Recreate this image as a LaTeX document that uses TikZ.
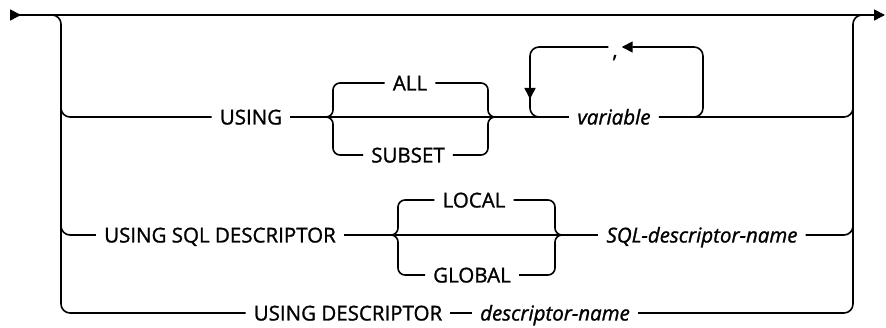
\documentclass[tikz,border=0pt]{standalone}
\usepackage{fontspec}
\newfontfamily\railfont{Open Sans}[FakeBold=1.2]
\usetikzlibrary{arrows.meta}
\tikzset{
  rail/.style={line width=1.6pt,rounded corners=9pt},
  brace/.style={line width=1.6pt,rounded corners=7pt},
  kw/.style={inner xsep=8pt,inner ysep=2pt,text height=15pt,text depth=0pt,
    font=\railfont\fontsize{20.5}{22}\selectfont},
  var/.style={kw,font=\railfont\fontsize{20.5}{22}\selectfont\itshape},
  rtip/.tip={Triangle[length=11pt,width=11pt]}
}
\begin{document}
\begin{tikzpicture}[x=1pt,y=-1pt]
    \useasboundingbox (0,0) rectangle (886,328);

    % text nodes
    \node[kw] (using) at (251,117) {USING};
    \node[kw] (all) at (410,83) {ALL};
    \node[kw] (subset) at (408,155) {SUBSET};
    \node[var] (variable) at (614,117) {variable};
    \node[kw,inner xsep=4pt] (comma) at (615,47) {\raisebox{-3pt}{,}};
    \node[kw] (sqldesc) at (220,235) {USING SQL DESCRIPTOR};
    \node[kw] (local) at (474,200) {LOCAL};
    \node[kw] (global) at (472,275) {GLOBAL};
    \node[var] (sqlname) at (702,235) {SQL-descriptor-name};
    \node[kw] (desc) at (348,313) {USING DESCRIPTOR};
    \node[var] (dname) at (555,313) {descriptor-name};

    \coordinate (start) at (10,15);
    \coordinate (stop) at (885,15);

    % main line
    \draw[line width=1.6pt,{rtip[reversed]}-{rtip}] (start) -- (stop);

    % left and right rails
    \draw[rail] (40,15) -| (61,313) -- (desc.west);
    \draw[rail] (61,95) |- (using.west);
    \draw[rail] (61,215) |- (sqldesc.west);
    \draw[rail] (dname.east) -| (853,15) -- (870,15);
    \draw[rail] (variable.east) -| (853,95);
    \draw[rail] (sqlname.east) -| (853,215);
    \draw[rail] (desc.east) -- (dname.west);

    % USING ALL / SUBSET
    \draw[rail] (using.east) -- (variable.west);
    \draw[brace] (325,117) -| (333,83) -- (all.west);
    \draw[brace] (325,117) -| (333,155) -- (subset.west);
    \draw[brace] (all.east) -| (488,117) -- (496,117);
    \draw[brace] (subset.east) -| (488,117) -- (496,117);

    % repeat loop
    \draw[rail,-{rtip}] (688,117) -| (703,47) -- (comma.east);
    \draw[rail,-{rtip}] (comma.west) -| (530,99);
    \draw[rail] (530,92) |- (548,117);

    % USING SQL DESCRIPTOR LOCAL / GLOBAL
    \draw[rail] (sqldesc.east) -- (sqlname.west);
    \draw[brace] (390,235) -| (398,200) -- (local.west);
    \draw[brace] (390,235) -| (398,275) -- (global.west);
    \draw[brace] (local.east) -| (555,235) -- (563,235);
    \draw[brace] (global.east) -| (555,235) -- (563,235);
\end{tikzpicture}
\end{document}
